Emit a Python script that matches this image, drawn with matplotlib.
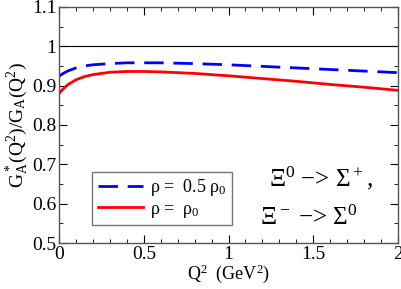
import matplotlib
matplotlib.use("Agg")
import matplotlib.pyplot as plt
from matplotlib.ticker import MultipleLocator, FuncFormatter

plt.rcParams['font.family'] = ['Liberation Serif', 'DejaVu Serif']
plt.rcParams['mathtext.fontset'] = 'custom'
plt.rcParams['mathtext.rm'] = 'Liberation Serif'
plt.rcParams['mathtext.it'] = 'Liberation Serif'

# values
q2 = [0.0, 0.02, 0.05, 0.1, 0.15, 0.2, 0.3, 0.4, 0.5, 0.6, 0.8, 1.0, 1.2, 1.4, 1.6, 1.8, 2.0]
ratio_half = [0.924, 0.930, 0.937, 0.945, 0.950, 0.953, 0.956, 0.958, 0.958, 0.958, 0.956, 0.953, 0.949, 0.945, 0.941, 0.937, 0.933]
ratio_full = [0.880, 0.890, 0.902, 0.915, 0.923, 0.928, 0.934, 0.936, 0.936, 0.935, 0.931, 0.925, 0.918, 0.911, 0.903, 0.896, 0.888]

fig = plt.figure(figsize=(4.02, 2.89), dpi=100)
ax = fig.add_axes([0.147, 0.159, 0.843, 0.817])

ax.axhline(1.0, color='black', lw=0.8)
ax.plot(q2, ratio_half, color='#0000ff', ls=(0, (7, 3.5)), lw=2, label='ρ =  0.5 ρ$_0$')
ax.plot(q2, ratio_full, color='#ff0000', ls='-', lw=2, label='ρ =  ρ$_0$')

ax.set_xlim(0, 2)
ax.set_ylim(0.5, 1.1)
ax.xaxis.set_major_locator(MultipleLocator(0.5))
ax.xaxis.set_minor_locator(MultipleLocator(0.1))
ax.yaxis.set_major_locator(MultipleLocator(0.1))
ax.yaxis.set_minor_locator(MultipleLocator(0.05))
ax.xaxis.set_major_formatter(FuncFormatter(lambda v, p: '%g' % v))
ax.yaxis.set_major_formatter(FuncFormatter(lambda v, p: '%g' % round(v, 2)))
ax.tick_params(which='both', direction='in', top=True, right=True, labelsize=14, pad=2)
ax.tick_params(which='major', length=6)
ax.tick_params(which='minor', length=3)
for s in ax.spines.values():
    s.set_linewidth(1.0)
    s.set_color('#555555')

ax.set_xlabel(r'Q$^2$  (GeV$^2$)', fontsize=13, labelpad=0)
ax.set_ylabel(r'$\mathrm{G_A^*(Q^2)/G_A(Q^2)}$', fontsize=14, labelpad=1)

ax.legend(loc='lower left', bbox_to_anchor=(0.098, 0.076), fontsize=13, frameon=True,
          fancybox=False, edgecolor='#555555', handlelength=2.5, borderpad=0.3,
          labelspacing=0.15, handletextpad=0.4, borderaxespad=0)

ax.text(0.926, 0.275, 'Ξ$^0$ −> Σ$^+$,', transform=ax.transAxes,
        ha='right', va='center', fontsize=18)
ax.text(0.88, 0.106, 'Ξ$^-$ −> Σ$^0$', transform=ax.transAxes,
        ha='right', va='center', fontsize=18)

fig.savefig('out.png', dpi=100)
